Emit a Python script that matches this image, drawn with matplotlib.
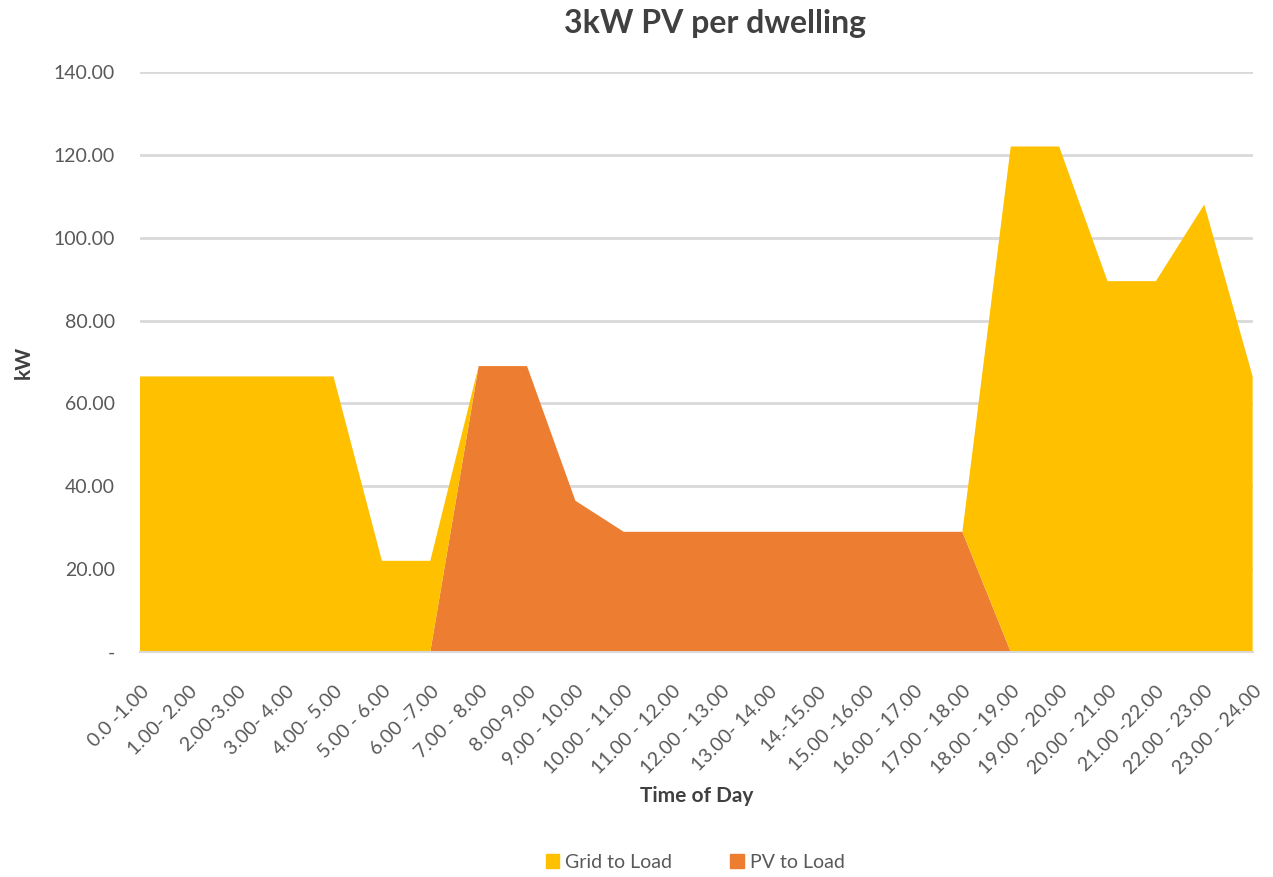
import matplotlib
matplotlib.use("Agg")
import matplotlib.pyplot as plt
from matplotlib.patches import Patch

plt.rcParams['font.family'] = ['Lato', 'DejaVu Sans']

# time slots as labelled in the source chart
time_labels = [
    "0.0 -1.00", "1.00- 2.00", "2.00-3.00", "3.00- 4.00", "4.00- 5.00",
    "5.00 - 6.00", "6.00 -7.00", "7.00 - 8.00", "8.00-9.00", "9.00 - 10.00",
    "10.00 - 11.00", "11.00 - 12.00", "12.00 - 13.00", "13.00- 14.00",
    "14.-15.00", "15.00 -16.00", "16.00 - 17.00", "17.00 - 18.00",
    "18.00 - 19.00", "19.00 - 20.00", "20.00 - 21.00", "21.00 -22.00",
    "22.00 - 23.00", "23.00 - 24.00",
]

# kW, stacked: PV at the bottom, grid on top
pv_to_load = [0, 0, 0, 0, 0, 0, 0, 69.0, 69.0, 36.5, 29.0, 29.0, 29.0, 29.0,
              29.0, 29.0, 29.0, 29.0, 0, 0, 0, 0, 0, 0]
grid_to_load = [66.5, 66.5, 66.5, 66.5, 66.5, 22.0, 22.0, 0, 0, 0, 0, 0, 0, 0,
                0, 0, 0, 0, 122.0, 122.0, 89.5, 89.5, 108.0, 66.5]

y_ticks = [0, 20, 40, 60, 80, 100, 120, 140]

YELLOW = "#FFC000"
ORANGE = "#ED7D31"
TXT = "#595959"

fig = plt.figure(figsize=(12.73, 8.77), dpi=100)
ax = fig.add_axes([0.110, 0.2566, 0.874, 0.6614])

x = list(range(len(time_labels)))
ax.stackplot(x, pv_to_load, grid_to_load, colors=[ORANGE, YELLOW], linewidth=0)

ax.set_xlim(0, len(time_labels) - 1)
ax.set_ylim(0, 140)
ax.set_yticks(y_ticks)
ax.set_yticklabels(["-" if v == 0 else f"{v:.2f}" for v in y_ticks],
                   fontsize=14, color=TXT)
ax.set_xticks(x)
ax.set_xticklabels(time_labels, rotation=45, ha="right", rotation_mode="anchor",
                   fontsize=14, color=TXT)

ax.grid(axis="y", color="#D9D9D9", linewidth=2)
ax.set_axisbelow(True)
for s in ["top", "right", "left"]:
    ax.spines[s].set_visible(False)
ax.spines["bottom"].set_color("#D9D9D9")
ax.spines["bottom"].set_linewidth(1.5)
ax.tick_params(axis="both", length=0)
ax.tick_params(axis="y", pad=18)
ax.tick_params(axis="x", pad=22)

ax.set_ylabel("kW", fontsize=15, fontweight="bold", color="#404040", labelpad=14)
ax.set_xlabel("Time of Day", fontsize=15, fontweight="bold", color="#404040",
              labelpad=6)
fig.suptitle("3kW PV per dwelling", fontsize=23, fontweight="bold",
             color="#404040", x=0.562, y=0.99)

handles = [Patch(color=YELLOW, label="Grid to Load"),
           Patch(color=ORANGE, label="PV to Load")]
fig.legend(handles=handles, loc="lower center", bbox_to_anchor=(0.546, -0.013),
           ncol=2, frameon=False, fontsize=14, handlelength=0.7, handleheight=0.7,
           columnspacing=3, handletextpad=0.3, labelcolor=TXT)

fig.savefig("out.png", dpi=100)
